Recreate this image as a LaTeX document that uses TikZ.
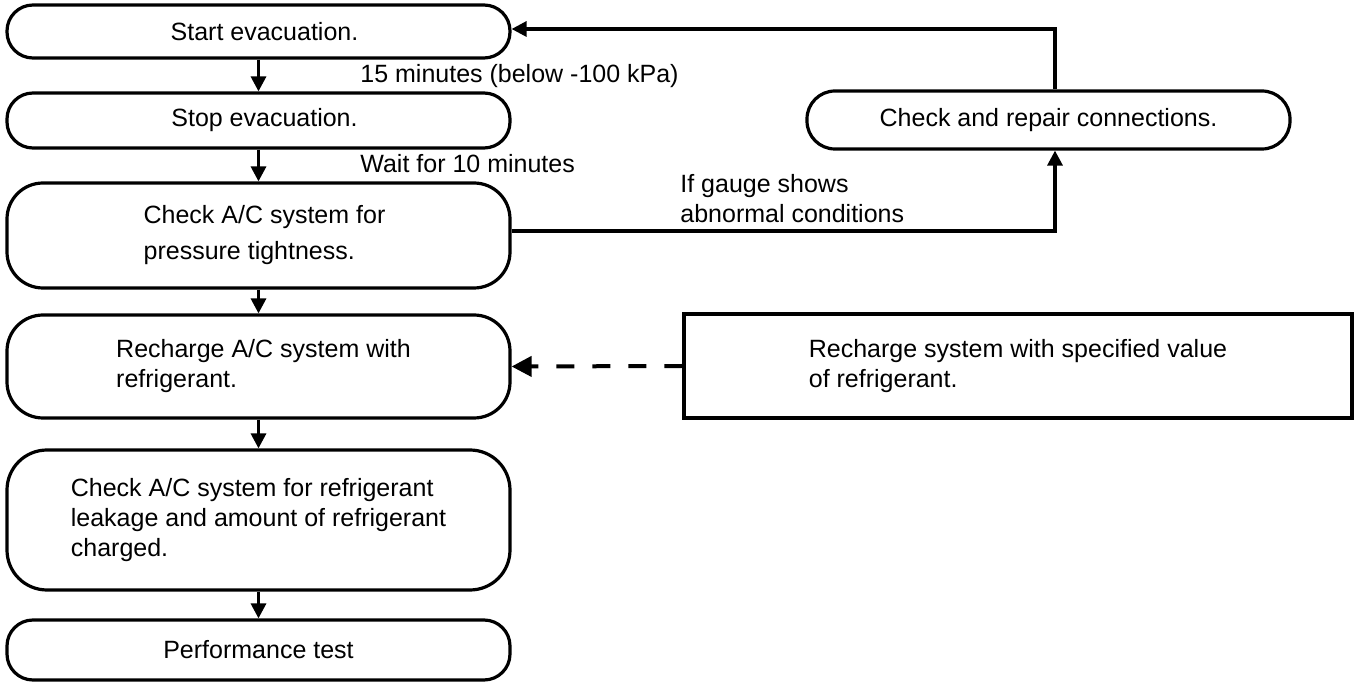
\documentclass[tikz,border=0pt]{standalone}
\usepackage{fontspec}
\setmainfont{Liberation Sans}
\usetikzlibrary{arrows.meta}
\newcommand{\sh}[1]{\hspace*{#1}}
\begin{document}
\begin{tikzpicture}[x=0.5pt,y=-0.5pt,
  font=\fontsize{12.5pt}{15pt}\selectfont,
  lw/.style={line width=1.6pt},
  flow/.style={draw,lw,rounded corners=13pt,minimum width=251.5pt,inner sep=0pt,align=left},
  bigflow/.style={flow,rounded corners=18pt},
  plainbox/.style={draw,lw,inner sep=0pt,align=left},
  arr/.style={lw,-{Triangle[length=7.5pt,width=7.5pt]}},
  darr/.style={line width=2pt,-{Triangle[length=10pt,width=10pt]},dash pattern=on 9pt off 9pt},
  lbl/.style={inner sep=0pt,align=left}]
\useasboundingbox (0,0) rectangle (1357,684);
\node[flow,minimum height=26.5pt] (start) at (258.5,31.5) {\sh{6pt}Start evacuation.};
\node[flow,minimum height=27.5pt] (stop) at (258.5,120.5) {\sh{6pt}Stop evacuation.};
\node[bigflow,minimum height=52.5pt,font=\fontsize{12.5pt}{18pt}\selectfont] (tight) at (258.5,235.5) {\sh{6pt}Check A/C system for\\\sh{6pt}pressure tightness.};
\node[bigflow,minimum height=51.5pt] (recharge) at (258.5,366.5) {\sh{5pt}Recharge A/C system with\\\sh{5pt}refrigerant.};
\node[bigflow,minimum height=70pt,rounded corners=20pt] (leak) at (258.5,520) {Check A/C system for refrigerant\\leakage and amount of refrigerant\\charged.};
\node[flow,minimum height=30pt] (perf) at (258.5,650) {Performance test};
\node[flow,minimum width=241.5pt,minimum height=29pt,rounded corners=14pt] (repair) at (1048.5,120) {Check and repair connections.};
\node[plainbox,minimum width=334pt,minimum height=52pt] (spec) at (1018,366) {Recharge system with specified value\\of refrigerant.};
\draw[arr] (start) -- (stop);
\draw[arr] (stop) -- (tight);
\draw[arr] (tight) -- (recharge);
\draw[arr] (recharge) -- (leak);
\draw[arr] (leak) -- (perf);
\coordinate (vx) at (1055,0);
\draw[arr] (tight.east |- 0,231) -| (repair.south -| vx);
\draw[arr] (repair.north -| vx) |- (start.east |- 0,29);
\draw[darr] (spec.west) -- (recharge.east);
\node[lbl,anchor=base west] (l15) at (360,83) {15 minutes (below -100 kPa)};
\node[lbl,anchor=base west] (lwait) at (360,173) {Wait for 10 minutes};
\node[lbl,anchor=west] (lgauge) at (680,199) {If gauge shows\\abnormal conditions};
\end{tikzpicture}
\end{document}
